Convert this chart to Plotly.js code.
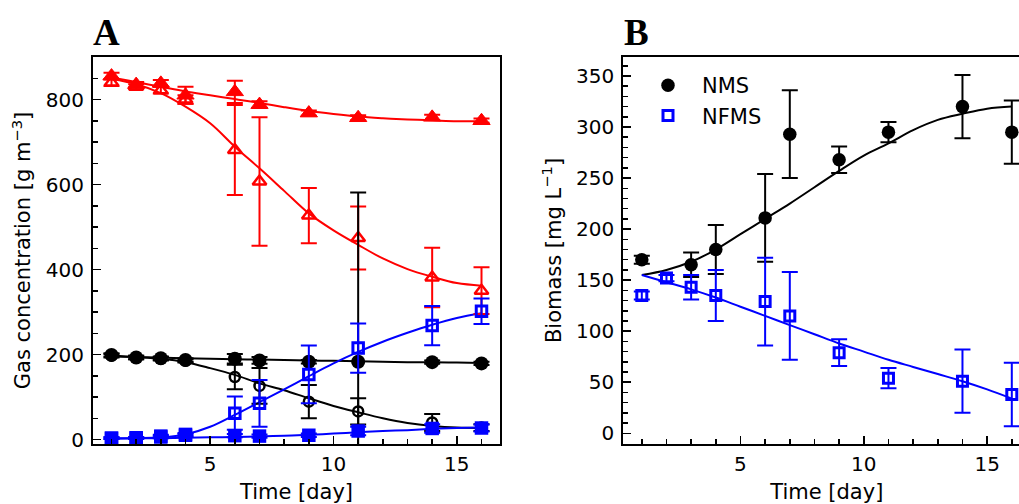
<!DOCTYPE html>
<html>
<head>
<meta charset="utf-8">
<script src="https://cdn.plot.ly/plotly-3.0.1.min.js"></script>
<style>
html,body{margin:0;padding:0;overflow:hidden;background:#fff;}
#chart{width:1040px;height:504px;}
</style>
</head>
<body>
<div id="chart"></div>
<script>
// ---------- Panel A: gas concentration ----------
const daysA = [1, 2, 3, 4, 6, 7, 9, 11, 14, 16];
const redFilled = [855, 835, 838, 810, 818, 788, 768, 757, 758, 750];
const redFilledErr = [8, 6, 8, 20, 26, 8, 6, 6, 6, 5];
const redOpen = [840, 830, 822, 800, 681, 607, 527, 474, 381, 350];
const redOpenErr = [8, 6, 8, 10, 106, 151, 65, 74, 70, 55];
const blackFilled = [199, 193, 191, 187, 190, 186, 183, 183, 182, 179];
const blackFilledErr = [4, 4, 4, 4, 11, 8, 4, 398, 4, 4];
const blackOpen = [197, 193, 190, 185, 147, 126, 89, 66, 40, 28];
const blackOpenErr = [4, 4, 4, 4, 29, 42, 39, 31, 20, 8];
const blueOpen = [3, 4, 6, 10, 62, 85, 153, 215, 268, 302];
const blueOpenErr = [2, 2, 3, 3, 39, 55, 68, 58, 46, 30];
const blueFilled = [3, 3, 8, 12, 9, 8, 10, 20, 26, 27];
const blueFilledErr = [2, 2, 3, 3, 4, 4, 4, 10, 10, 8];

const fitDays = [1, 2, 3, 4, 5, 6, 7, 8, 9, 10, 11, 12, 13, 14, 15, 16];
const redFilledFit = [852, 841, 830, 819, 810, 801, 792, 782, 773, 766, 760, 756, 753, 751, 749, 749];
const redOpenFit = [848, 836, 815, 783, 744, 689, 638, 585, 532, 492, 458, 426, 401, 383, 368, 362];
const blackFilledFit = [195, 194, 193, 191, 190, 189, 188, 187, 186, 185, 184, 183, 182, 182, 181, 180];
const blackOpenFit = [197, 194, 190, 182, 168, 152, 132, 116, 97, 79, 64, 50, 39, 32, 28, 27];
const blueOpenFit = [2, 3, 5, 12, 30, 58, 88, 118, 149, 179, 206, 230, 251, 270, 286, 297];
const blueFilledFit = [3, 3, 3, 4, 5, 6, 7, 9, 11, 14, 17, 20, 22, 25, 27, 28];

// ---------- Panel B: biomass ----------
const daysNMS = [1, 3, 4, 6, 7, 9, 11, 14, 16];
const nms = [170, 165, 180, 211, 293, 268, 295, 320, 295];
const nmsErr = [4, 12, 24, 43, 43, 13, 10, 31, 31];
const daysNFMS = [1, 2, 3, 4, 6, 7, 9, 11, 14, 16];
const nfms = [135, 152, 143, 135, 129, 115, 79, 54, 51, 38];
const nfmsErr = [4, 3, 12, 25, 43, 43, 13, 10, 31, 31];
const nmsFit = [155, 160, 168, 180, 195, 210, 225, 241, 257, 272, 284, 297, 307, 313, 318, 320];
const nfmsFit = [155, 148, 141, 133, 124, 115, 106, 97, 88, 80, 72, 65, 58, 51, 43, 34];

const seriesNames = ['NMS', 'NFMS'];
const tickFont = {family: 'DejaVu Sans', size: 20, color: '#000'};
const titleFont = {family: 'DejaVu Sans', size: 21, color: '#000'};

const W = 1040, H = 504;
const RED = '#ff0000', BLUE = '#0000ff', BLACK = '#000000';

function fit(x, y, color, xa, ya) {
  return {x: x, y: y, xaxis: xa, yaxis: ya, mode: 'lines', type: 'scatter',
    line: {color: color, width: 2, shape: 'spline', smoothing: 1}, showlegend: false, hoverinfo: 'skip'};
}
function pts(x, y, err, color, symbol, size, lw, xa, ya, name, showleg) {
  return {x: x, y: y, xaxis: xa, yaxis: ya, mode: 'markers', type: 'scatter', name: name || 'data',
    showlegend: !!showleg,
    marker: {symbol: symbol, size: size, color: color, line: {color: color, width: lw}},
    error_y: {type: 'data', array: err, visible: true, color: color, thickness: 2, width: 8}};
}

const traces = [
  fit(fitDays, redFilledFit, RED, 'x', 'y'),
  fit(fitDays, redOpenFit, RED, 'x', 'y'),
  fit(fitDays, blackFilledFit, BLACK, 'x', 'y'),
  fit(fitDays, blackOpenFit, BLACK, 'x', 'y'),
  fit(fitDays, blueOpenFit, BLUE, 'x', 'y'),
  fit(fitDays, blueFilledFit, BLUE, 'x', 'y'),
  pts(daysA, redFilled, redFilledErr, RED, 'triangle-up', 15, 1, 'x', 'y'),
  pts(daysA, redOpen, redOpenErr, RED, 'triangle-up-open', 12, 2.5, 'x', 'y'),
  pts(daysA, blackOpen, blackOpenErr, BLACK, 'circle-open', 10, 2.5, 'x', 'y'),
  pts(daysA, blackFilled, blackFilledErr, BLACK, 'circle', 14, 0, 'x', 'y'),
  pts(daysA, blueOpen, blueOpenErr, BLUE, 'square-open', 10.5, 3, 'x', 'y'),
  pts(daysA, blueFilled, blueFilledErr, BLUE, 'square', 13.5, 0, 'x', 'y'),
  fit(fitDays, nmsFit, BLACK, 'x2', 'y2'),
  fit(fitDays, nfmsFit, BLUE, 'x2', 'y2'),
  pts(daysNMS, nms, nmsErr, BLACK, 'circle', 13.5, 0, 'x2', 'y2', seriesNames[0], true),
  pts(daysNFMS, nfms, nfmsErr, BLUE, 'square-open', 10, 3, 'x2', 'y2', seriesNames[1], true)
];

function xax(domain) {
  return {domain: domain, range: [0.25, 16.75], tick0: 0, dtick: 5, ticks: 'inside', ticklen: 8, tickwidth: 1.5,
    tickcolor: '#000', showline: true, mirror: true, linewidth: 2, linecolor: '#000', showgrid: false, zeroline: false,
    tickfont: tickFont, ticklabelstandoff: 1,
    minor: {dtick: 1, ticks: 'inside', ticklen: 5, tickwidth: 1.5, tickcolor: '#000', showgrid: false},
    title: {text: 'Time [day]', font: titleFont, standoff: 11}};
}
function yax(range, dtick, mdtick, title, anchor) {
  return {domain: [60 / H, 447 / H], range: range, dtick: dtick, ticks: 'inside', ticklen: 8, tickwidth: 1.5,
    tickcolor: '#000', showline: true, mirror: true, linewidth: 2, linecolor: '#000', showgrid: false, zeroline: false,
    tickfont: tickFont, anchor: anchor, ticklabelstandoff: 3,
    minor: {dtick: mdtick, ticks: 'inside', ticklen: 5, tickwidth: 1.5, tickcolor: '#000', showgrid: false},
    title: {text: title, font: titleFont, standoff: 9}};
}

const layout = {
  width: W, height: H,
  margin: {l: 0, r: 0, t: 0, b: 0},
  paper_bgcolor: '#fff', plot_bgcolor: '#fff',
  showlegend: true,
  xaxis: Object.assign(xax([93 / W, 500 / W]), {anchor: 'y'}),
  yaxis: yax([-10.6, 900], 200, 50, 'Gas concentration [g m<sup>−3</sup>]', 'x'),
  xaxis2: Object.assign(xax([623.3 / W, 1030.3 / W]), {anchor: 'y2'}),
  yaxis2: yax([-10.5, 368.6], 50, 10, 'Biomass [mg L<sup>−1</sup>]', 'x2'),
  legend: {x: 634 / W, y: 1 - 65 / H, xanchor: 'left', yanchor: 'top', bgcolor: 'rgba(0,0,0,0)',
    font: {family: 'DejaVu Sans', size: 21, color: '#000'}, itemwidth: 58},
  annotations: [
    {text: '<b>A</b>', xref: 'paper', yref: 'paper', x: 91 / W, y: 1 - 33 / H, xanchor: 'left', yanchor: 'middle',
      showarrow: false, font: {family: 'Liberation Serif', size: 37, color: '#000'}},
    {text: '<b>B</b>', xref: 'paper', yref: 'paper', x: 622 / W, y: 1 - 33 / H, xanchor: 'left', yanchor: 'middle',
      showarrow: false, font: {family: 'Liberation Serif', size: 37, color: '#000'}}
  ]
};

Plotly.newPlot('chart', traces, layout, {displayModeBar: false, staticPlot: true});
</script>
</body>
</html>
